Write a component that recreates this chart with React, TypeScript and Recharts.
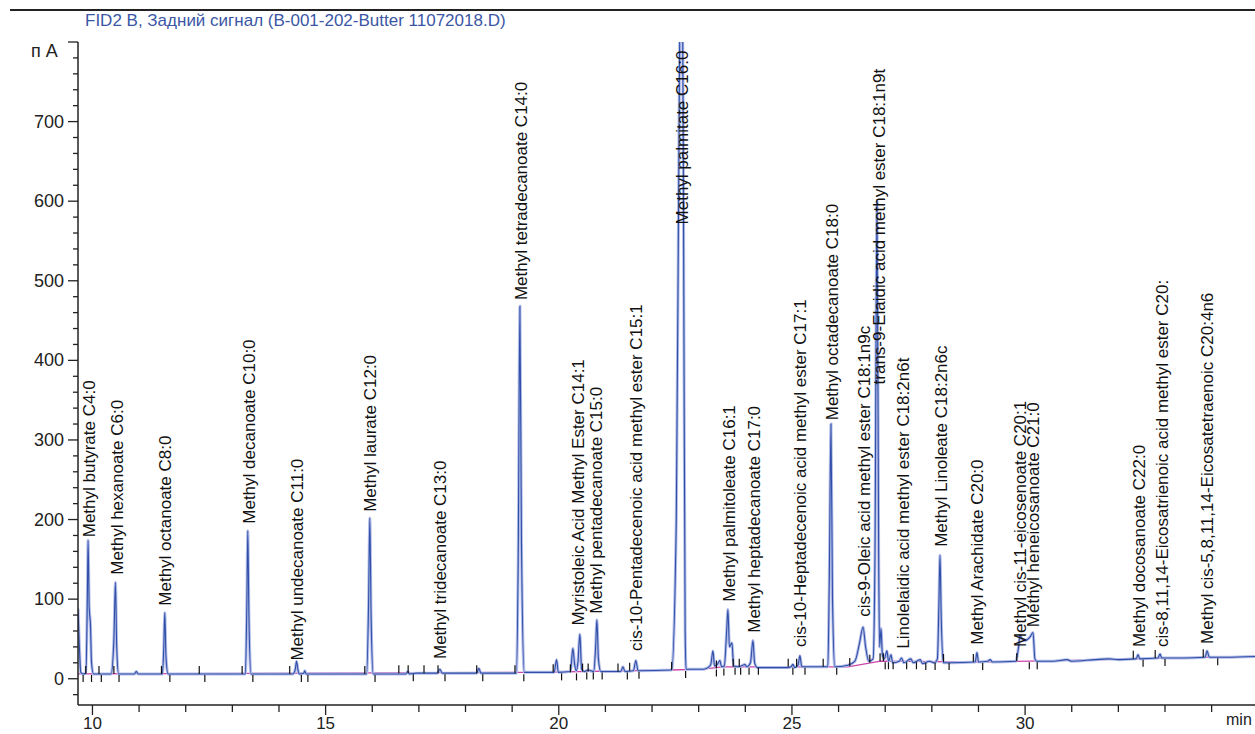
import { ComposedChart, Line, Scatter, XAxis, YAxis } from "recharts";

// retention time (min) and signal (pA)
const trace: [number, number][] = [
  [9.69, 88], [9.72, 40], [9.75, 8], [9.8, 6], [9.86, 7], [9.89, 100], [9.906, 174], [9.93, 90],
  [9.957, 68], [9.98, 20], [10.02, 6], [10.4, 6], [10.46, 50], [10.493, 121], [10.52, 40], [10.56, 6],
  [10.9, 6], [10.94, 9], [10.98, 6], [11.5, 6], [11.53, 40], [11.551, 83], [11.575, 30], [11.62, 6],
  [13.28, 6], [13.31, 90], [13.331, 186], [13.355, 80], [13.4, 6],
  [14.3, 6], [14.35, 12], [14.376, 22], [14.41, 10], [14.44, 6], [14.53, 7], [14.554, 10], [14.58, 6],
  [15.88, 6], [15.92, 90], [15.948, 202], [15.975, 80], [16.02, 6],
  [16.72, 6], [16.763, 9], [16.8, 6], [16.95, 7], [17.4, 7], [17.45, 12], [17.5, 7],
  [18.24, 7], [18.286, 13], [18.33, 7],
  [19.09, 7], [19.13, 150], [19.166, 468], [19.2, 170], [19.26, 8],
  [19.9, 8], [19.953, 24], [19.99, 8],
  [20.25, 9], [20.302, 38], [20.34, 18], [20.375, 10], [20.41, 20], [20.452, 56], [20.49, 12], [20.55, 9],
  [20.63, 11], [20.75, 9], [20.79, 40], [20.817, 74], [20.85, 25], [20.9, 9],
  [21.33, 9], [21.375, 15], [21.42, 9], [21.6, 10], [21.653, 23], [21.7, 10],
  [22.42, 11], [22.52, 200], [22.58, 700], [22.61, 900], [22.65, 900], [22.68, 500], [22.71, 60], [22.73, 12],
  [23.1, 12], [23.2, 14], [23.26, 18], [23.306, 35], [23.34, 16], [23.4, 18], [23.456, 23], [23.49, 15],
  [23.55, 16], [23.6, 60], [23.627, 87], [23.66, 40], [23.713, 45], [23.75, 16], [23.85, 15],
  [23.95, 17], [23.992, 18], [24.03, 15], [24.11, 20], [24.164, 48], [24.2, 20], [24.26, 14],
  [24.9, 14], [24.98, 15], [25.022, 18], [25.06, 14], [25.13, 17], [25.172, 29], [25.21, 15], [25.5, 15],
  [25.77, 15], [25.8, 120], [25.837, 320], [25.87, 100], [25.92, 15],
  [26.2, 17], [26.35, 22], [26.45, 45], [26.524, 65], [26.58, 40], [26.65, 22], [26.74, 25],
  [26.78, 150], [26.824, 600], [26.86, 150], [26.88, 40], [26.91, 63], [26.94, 30], [26.98, 25],
  [27.038, 35], [27.07, 22], [27.124, 30], [27.16, 20], [27.3, 22], [27.35, 26], [27.4, 20],
  [27.55, 25], [27.6, 20], [27.75, 24], [27.8, 19], [27.95, 22], [28.05, 20],
  [28.12, 25], [28.15, 90], [28.175, 155], [28.2, 80], [28.25, 20],
  [28.4, 20], [28.93, 21], [28.968, 33], [29.0, 21], [29.2, 22], [29.25, 24], [29.3, 21],
  [29.8, 22], [29.86, 40], [29.891, 55], [29.93, 50], [30.0, 48], [30.1, 52], [30.17, 58], [30.21, 25],
  [30.25, 22], [30.6, 22], [30.9, 24], [31.0, 22], [31.5, 24], [31.8, 25], [32.0, 24],
  [32.38, 25], [32.422, 30], [32.46, 25], [32.85, 26], [32.894, 31], [32.93, 26],
  [33.4, 26], [33.86, 27], [33.902, 35], [33.95, 27], [34.3, 27], [34.93, 28],
];

// integration baseline (pink)
const baseline: [number, number][] = [
  [9.69, 6], [19.5, 8], [22.4, 11], [23.1, 12], [23.5, 15], [26.2, 15], [26.9, 22],
  [29.0, 21], [31.0, 23], [33.0, 26], [34.93, 28],
];

// integration start / end markers
const startMarks: [number, number][] = [
  [9.856, 6], [10.14, 6], [10.46, 6], [11.48, 6], [12.29, 6], [13.21, 6], [14.23, 6], [15.84, 6],
  [16.57, 7], [16.77, 7], [17.11, 7], [17.41, 7], [18.24, 7], [19.06, 7], [19.88, 8], [20.25, 8],
  [20.51, 9], [20.63, 9], [21.27, 9], [21.52, 10], [22.42, 11], [23.38, 13], [23.74, 15], [23.87, 15],
  [24.92, 15], [25.1, 15], [25.67, 15], [26.24, 16], [26.67, 20], [26.89, 22], [26.96, 22],
  [28.25, 21], [28.89, 21], [29.82, 22], [32.32, 25], [32.79, 26], [33.82, 27],
];
const endMarks: [number, number][] = [
  [9.8, 6], [9.98, 6], [10.19, 6], [10.57, 6], [11.66, 6], [12.41, 6], [13.44, 6], [14.48, 6],
  [14.62, 6], [16.06, 6], [16.88, 7], [17.56, 7], [18.37, 7], [19.25, 7], [20.06, 8], [20.38, 8],
  [20.6, 9], [20.74, 9], [20.93, 9], [21.47, 9], [21.72, 10], [22.72, 11], [23.38, 13], [23.54, 14],
  [23.78, 15], [23.9, 15], [24.08, 15], [24.28, 15], [25.02, 15], [25.28, 15], [25.96, 15],
  [27.0, 22], [27.07, 22], [27.17, 22], [27.46, 22], [27.67, 22], [27.87, 21], [28.07, 21],
  [28.37, 21], [29.09, 21], [30.09, 22], [30.26, 22], [32.53, 25], [33.0, 26], [34.13, 27],
];

const peakNames = [
  "Methyl butyrate C4:0", "Methyl hexanoate C6:0", "Methyl octanoate C8:0", "Methyl decanoate C10:0",
  "Methyl undecanoate C11:0", "Methyl laurate C12:0", "Methyl tridecanoate C13:0",
  "Methyl tetradecanoate C14:0", "Myristoleic Acid Methyl Ester C14:1", "Methyl pentadecanoate C15:0",
  "cis-10-Pentadecenoic acid methyl ester C15:1", "Methyl palmitate C16:0", "Methyl palmitoleate C16:1",
  "Methyl heptadecanoate C17:0", "cis-10-Heptadecenoic acid methyl ester C17:1",
  "Methyl octadecanoate C18:0", "cis-9-Oleic acid methyl ester C18:1n9c",
  "trans-9-Elaidic acid methyl ester C18:1n9t", "Linolelaidic acid methyl ester C18:2n6t",
  "Methyl Linoleate C18:2n6c", "Methyl Arachidate C20:0", "Methyl cis-11-eicosenoate C20:1",
  "Methyl heneicosanoate C21:0", "Methyl docosanoate C22:0",
  "cis-8,11,14-Eicosatrienoic acid methyl ester C20:", "Methyl cis-5,8,11,14-Eicosatetraenoic C20:4n6",
];
const peakTimes = [
  9.92, 10.52, 11.55, 13.35, 14.38, 15.95, 17.45, 19.19, 20.41, 20.8, 21.65, 22.64, 23.65,
  24.19, 25.17, 25.86, 26.54, 26.87, 27.38, 28.2, 28.98, 29.9, 30.17, 32.45, 32.94, 33.91,
];
const labelHeights = [
  174, 127, 88, 191, 19, 206, 21, 472, 63, 78, 31, 567, 93, 54, 36, 321, 74, 366, 34, 162,
  39, 36, 61, 36, 36, 40,
];

const xTicks = [10, 11, 12, 13, 14, 15, 16, 17, 18, 19, 20, 21, 22, 23, 24, 25, 26, 27, 28, 29, 30, 31, 32, 33, 34];
const yTicks = [-20, 0, 20, 40, 60, 80, 100, 120, 140, 160, 180, 200, 220, 240, 260, 280, 300, 320, 340,
  360, 380, 400, 420, 440, 460, 480, 500, 520, 540, 560, 580, 600, 620, 640, 660, 680, 700, 720, 740,
  760, 780, 800];

const font = "'Liberation Sans', Arial, sans-serif";

const traceData = trace.map(([t, v]) => ({ t, v }));
const baseData = baseline.map(([t, v]) => ({ t, v }));
const startData = startMarks.map(([t, v]) => ({ t, v }));
const endData = endMarks.map(([t, v]) => ({ t, v }));
const labelData = peakNames.map((name, i) => ({ t: peakTimes[i], v: labelHeights[i], name }));

const XTick = (props: any) => {
  const { x, y, payload } = props;
  const major = payload.value % 5 === 0;
  return (
    <g>
      <line x1={x} x2={x} y1={y} y2={y + (major ? 10 : 7)} stroke="#222" strokeWidth={1.3} />
      {major && (
        <text x={x} y={y + 24} textAnchor="middle" fontSize={17} fill="#222" fontFamily={font}>
          {payload.value}
        </text>
      )}
    </g>
  );
};

const YTick = (props: any) => {
  const { x, y, payload } = props;
  const v = payload.value;
  const major = v % 100 === 0;
  return (
    <g>
      <line x1={x - (major ? 10 : 5)} x2={x} y1={y} y2={y} stroke="#222" strokeWidth={1.3} />
      {major && v >= 0 && v <= 700 && (
        <text x={x - 14} y={y + 6} textAnchor="end" fontSize={18} fill="#222" fontFamily={font}>
          {v}
        </text>
      )}
    </g>
  );
};

const PeakLabel = (props: any) => {
  const { cx, cy, payload } = props;
  return (
    <text
      x={cx}
      y={cy}
      dx={3}
      dy="0.35em"
      transform={`rotate(-90 ${cx} ${cy})`}
      fontSize={17}
      fill="#111"
      fontFamily={font}
    >
      {payload.name}
    </text>
  );
};

const StartMark = (props: any) => (
  <line x1={props.cx} x2={props.cx} y1={props.cy} y2={props.cy - 8} stroke="#111" strokeWidth={1.2} />
);
const EndMark = (props: any) => (
  <line x1={props.cx} x2={props.cx} y1={props.cy + 1} y2={props.cy + 8} stroke="#111" strokeWidth={1.2} />
);

export default function App() {
  return (
    <div style={{ position: "absolute", left: 0, top: 0, width: 1255, height: 734, background: "#fff", fontFamily: font, overflow: "hidden" }}>
      <div style={{ position: "absolute", left: 10, top: 9, width: 1245, height: 2, background: "#222" }} />
      <div style={{ position: "absolute", left: 85, top: 11, fontSize: 17, color: "#3a56a5", whiteSpace: "nowrap" }}>
        FID2 B, Задний сигнал (B-001-202-Butter 11072018.D)
      </div>
      <div style={{ position: "absolute", left: 31, top: 41, fontSize: 18, color: "#222", whiteSpace: "nowrap" }}>п А</div>
      <div style={{ position: "absolute", left: 1226, top: 711, fontSize: 16, color: "#222" }}>min</div>
      <ComposedChart
        width={1255}
        height={734}
        margin={{ top: 42, right: 0, bottom: 0, left: 0 }}
        style={{ position: "absolute", left: 0, top: 0 }}
      >
        <XAxis
          dataKey="t"
          type="number"
          domain={[9.69, 34.93]}
          ticks={xTicks}
          allowDataOverflow
          height={29}
          tickSize={0}
          tickMargin={0}
          tickLine={false}
          tick={<XTick />}
          axisLine={{ stroke: "#222", strokeWidth: 1.5 }}
          interval={0}
        />
        <YAxis
          dataKey="v"
          type="number"
          domain={[-33, 800]}
          ticks={yTicks}
          allowDataOverflow
          width={78}
          tickSize={0}
          tickMargin={0}
          tickLine={false}
          tick={<YTick />}
          axisLine={{ stroke: "#222", strokeWidth: 1.5 }}
          interval={0}
        />
        <Line data={baseData} dataKey="v" type="linear" stroke="#cc44aa" strokeWidth={1.3} dot={false} isAnimationActive={false} />
        <Line data={traceData} dataKey="v" type="monotone" stroke="#b4bde8" strokeWidth={3} dot={false} isAnimationActive={false} />
        <Line data={traceData} dataKey="v" type="monotone" stroke="#2f4fa8" strokeWidth={1.1} dot={false} isAnimationActive={false} />
        <Scatter data={startData} dataKey="v" shape={<StartMark />} isAnimationActive={false} />
        <Scatter data={endData} dataKey="v" shape={<EndMark />} isAnimationActive={false} />
        <Scatter data={labelData} dataKey="v" shape={<PeakLabel />} isAnimationActive={false} />
      </ComposedChart>
    </div>
  );
}
